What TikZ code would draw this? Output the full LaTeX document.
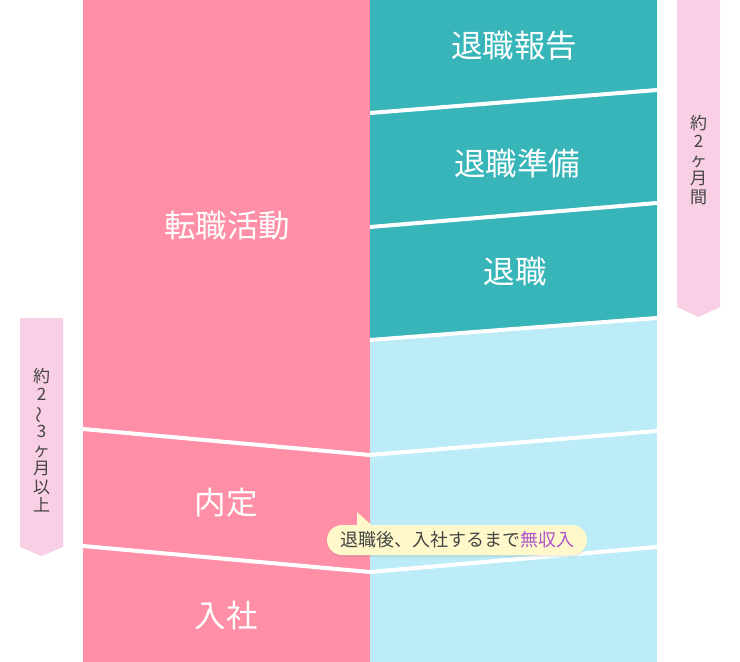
\documentclass[tikz,border=0pt]{standalone}
\usepackage{fontspec}
\setmainfont{Noto Sans CJK JP}
\usetikzlibrary{shadows}
\definecolor{jobpink}{RGB}{255,143,166}
\definecolor{quitteal}{RGB}{55,181,185}
\definecolor{gapblue}{RGB}{187,236,248}
\definecolor{spanpink}{RGB}{248,207,228}
\definecolor{memoyellow}{RGB}{255,248,202}
\definecolor{memotext}{RGB}{68,68,68}
\definecolor{nopay}{RGB}{176,86,204}
\tikzset{
  divider/.style={white,line width=4pt},
  stage/.style={white,font=\fontsize{31.5}{33}\selectfont},
  vtext/.style={memotext,align=center,font=\fontsize{17}{18.5}\selectfont},
  memo/.style={fill=memoyellow,rounded corners=15pt,minimum width=260pt,
    minimum height=30pt,inner sep=0pt,text=memotext,
    font=\fontsize{18}{20}\selectfont,
    drop shadow={shadow xshift=0pt,shadow yshift=-2pt,opacity=0.15}}
}
\begin{document}
\begin{tikzpicture}[x=1pt,y=-1pt]
  \useasboundingbox (0,0) rectangle (740,662);
  % columns
  \fill[jobpink] (83,0) rectangle (370,662);
  \fill[gapblue] (370,0) rectangle (657,662);
  \fill[quitteal] (370,0) -- (657,0) -- (657,318) -- (370,340) -- cycle;
  % dividers
  \draw[divider] (370,113) -- (657,90);
  \draw[divider] (370,227) -- (657,203);
  \draw[divider] (370,340) -- (657,318);
  \draw[divider] (83,429) -- (370,455) -- (657,431);
  \draw[divider] (83,546) -- (370,572) -- (657,547);
  % stages
  \node[stage] (search) at (227,226) {転職活動};
  \node[stage] (offer) at (226,503) {内定};
  \node[stage] (join) at (226,616) {入社};
  \node[stage] (report) at (514,46) {退職報告};
  \node[stage] (prepare) at (517,163) {退職準備};
  \node[stage] (leave) at (515,272) {退職};
  % span banners
  \fill[spanpink] (20,318) -- (63,318) -- (63,547) -- (41.5,556) -- (20,547) -- cycle;
  \node[vtext] (longspan) at (41.5,440) {約\\2\\\rotatebox[origin=c]{90}{～}\\3\\ヶ\\月\\以\\上};
  \fill[spanpink] (677,0) -- (720,0) -- (720,307) -- (698.5,317) -- (677,307) -- cycle;
  \node[vtext] (shortspan) at (698.5,160) {約\\2\\ヶ\\月\\間};
  % no income memo
  \node[memo] (income) at (457,540) {退職後、入社するまで\textcolor{nopay}{無収入}};
  \fill[memoyellow] (357,512) -- (357,530) -- (377,530) -- cycle;
\end{tikzpicture}
\end{document}
